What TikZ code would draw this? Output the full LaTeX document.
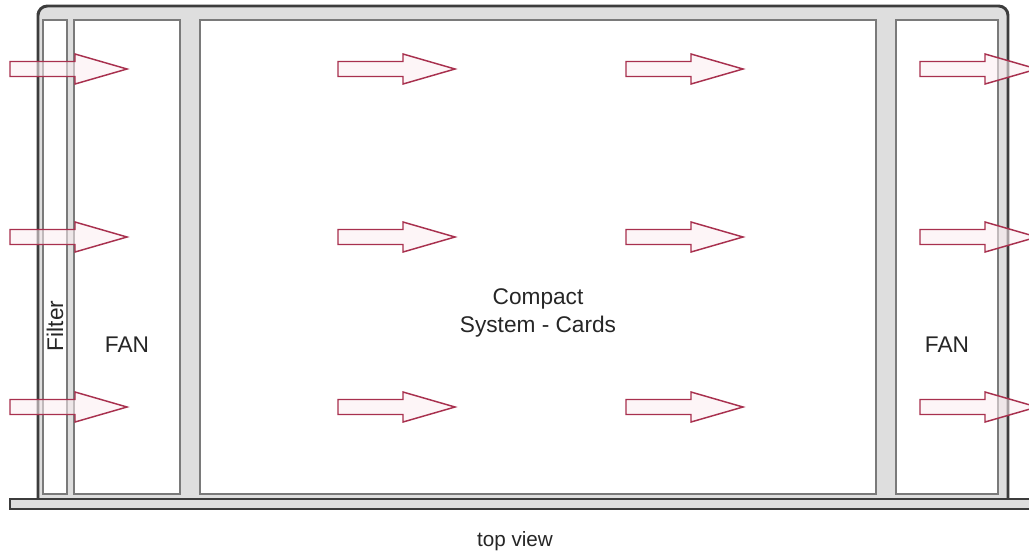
\documentclass[tikz,border=0pt]{standalone}
\usepackage{fontspec}
\setmainfont{Liberation Sans}
\definecolor{wallfill}{HTML}{DEDEDE}
\definecolor{walldark}{HTML}{3C3C3C}
\definecolor{boxline}{HTML}{7A7A7A}
\definecolor{arrowline}{HTML}{A8304E}
\definecolor{arrowfill}{HTML}{FCEEF1}
\tikzset{
  housing/.style={fill=wallfill, draw=walldark, line width=2.2pt},
  bay/.style={fill=white, draw=boxline, line width=1.3pt},
  baseplate/.style={fill=wallfill, draw=walldark, line width=1.6pt},
  airflow/.style={draw=arrowline, line width=1.1pt, fill=arrowfill, fill opacity=0.55, line join=miter},
  label/.style={font=\fontsize{17}{20.5}\selectfont, text=black!85, align=center, inner sep=0pt}
}
\newcommand{\airarrow}[2]{%
  \path[airflow] (#1,#2-7.5) -- ++(65,0) -- ++(0,-7.5) -- (#1+117,#2) -- (#1+65,#2+15) -- ++(0,-7.5) -- (#1,#2+7.5) -- cycle;}
\begin{document}
\begin{tikzpicture}[x=0.75pt,y=-0.75pt]
\useasboundingbox (0,0) rectangle (1029,558);
\fill[white] (0,0) rectangle (1029,558);
% housing: rounded at the top, square where it meets the base plate
\path[housing] (38,500) -- (38,13) [rounded corners=7pt] -- (38,6) -- (1008,6) [sharp corners] -- (1008,500) -- cycle;
\path[bay] (43,20) rectangle (67,494);
\path[bay] (74,20) rectangle (180,494);
\path[bay] (200,20) rectangle (876,494);
\path[bay] (896,20) rectangle (998,494);
% base plate
\path[baseplate] (10,499) rectangle (1032,509);
% labels
\node[label, rotate=90] (filter) at (55,326) {Filter};
\node[label] (fanl) at (127,345) {FAN};
\node[label] (cards) at (538,313) {Compact\\System - Cards};
\node[label] (fanr) at (947,345) {FAN};
\node[label, font=\fontsize{15.5}{18}\selectfont] (top) at (515,541) {top view};
% airflow arrows
\foreach \yy in {69,237,407}{
  \foreach \xx in {10,338,626,920}{
    \airarrow{\xx}{\yy}
  }
}
\end{tikzpicture}
\end{document}
